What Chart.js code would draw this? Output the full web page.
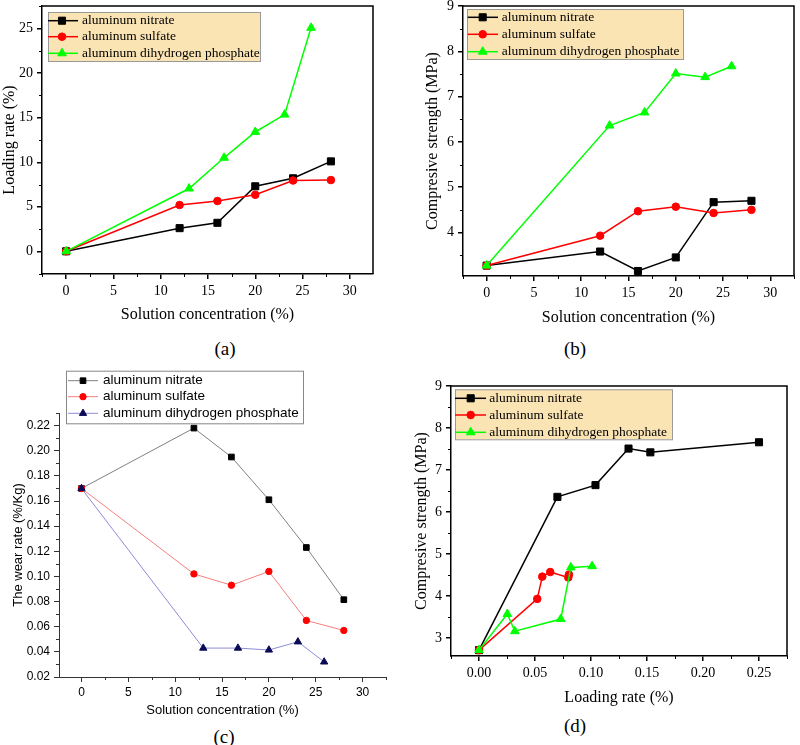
<!DOCTYPE html>
<html><head><meta charset="utf-8">
<script src="https://cdn.jsdelivr.net/npm/chart.js@4.4.0/dist/chart.umd.min.js"></script>
<style>
html,body{margin:0;padding:0;background:#fff;}
#wrap{position:relative;width:800px;height:745px;overflow:hidden;background:#fff;}
canvas{position:absolute;}
.cap{position:absolute;font-family:"Liberation Serif",serif;font-size:19px;color:#000;transform:translate(-50%,-50%);white-space:nowrap;}
</style></head><body>
<div id="wrap">
<canvas id="ca" width="400" height="335" style="left:0px;top:0px"></canvas>
<canvas id="cb" width="400" height="335" style="left:400px;top:0px"></canvas>
<canvas id="cc" width="400" height="360" style="left:0px;top:360px"></canvas>
<canvas id="cd" width="400" height="345" style="left:400px;top:370px"></canvas>
<div class="cap" style="left:225px;top:349px">(a)</div>
<div class="cap" style="left:575px;top:349px">(b)</div>
<div class="cap" style="left:224px;top:737px">(c)</div>
<div class="cap" style="left:575px;top:726px">(d)</div>
</div>
<script>
// ---------- data ----------
const seriesNames = ['aluminum nitrate', 'aluminum sulfate', 'aluminum dihydrogen phosphate'];
const concNitrateSulfate = [0, 12, 16, 20, 24, 28];
const concPhosphate = [0, 13, 16.7, 20, 23.1, 25.9];
// (a) loading rate
const loadNitrate = [0, 2.6, 3.2, 7.3, 8.2, 10.1];
const loadSulfate = [0, 5.2, 5.65, 6.35, 7.95, 8.0];
const loadPhosphate = [0, 7.05, 10.5, 13.4, 15.35, 25.1];
// (b) compressive strength
const strNitrate = [3.27, 3.58, 3.15, 3.45, 4.67, 4.70];
const strSulfate = [3.27, 3.93, 4.47, 4.57, 4.43, 4.50];
const strPhosphate = [3.27, 6.36, 6.65, 7.51, 7.43, 7.67];
// (c) wear rate
const wearNitrate = [0.170, 0.218, 0.195, 0.161, 0.123, 0.0815];
const wearSulfate = [0.170, 0.102, 0.093, 0.104, 0.065, 0.057];
const wearPhosphate = [0.170, 0.043, 0.043, 0.0415, 0.048, 0.032];
// (d) strength vs loading rate
const dNitrateX = [0, 0.070, 0.104, 0.1335, 0.153, 0.250];
const dNitrateY = [2.71, 6.36, 6.64, 7.51, 7.42, 7.66];
const dSulfateX = [0, 0.052, 0.0565, 0.0636, 0.0797, 0.0803];
const dSulfateY = [2.71, 3.93, 4.46, 4.57, 4.44, 4.51];
const dPhosphateX = [0, 0.0253, 0.032, 0.073, 0.082, 0.101];
const dPhosphateY = [2.71, 3.57, 3.16, 3.45, 4.68, 4.71];
// ticks
const ticksConc = [0, 5, 10, 15, 20, 25, 30];
const ticksConcLabels = ['0', '5', '10', '15', '20', '25', '30'];
const ticksLoadA = [0, 5, 10, 15, 20, 25];
const ticksLoadALabels = ['0', '5', '10', '15', '20', '25'];
const ticksStrB = [4, 5, 6, 7, 8, 9];
const ticksStrBLabels = ['4', '5', '6', '7', '8', '9'];
const ticksWear = [0.02, 0.04, 0.06, 0.08, 0.10, 0.12, 0.14, 0.16, 0.18, 0.20, 0.22];
const ticksWearLabels = ['0.02', '0.04', '0.06', '0.08', '0.10', '0.12', '0.14', '0.16', '0.18', '0.20', '0.22'];
const ticksLoadD = [0, 0.05, 0.10, 0.15, 0.20, 0.25];
const ticksLoadDLabels = ['0.00', '0.05', '0.10', '0.15', '0.20', '0.25'];
const ticksStrD = [3, 4, 5, 6, 7, 8, 9];
const ticksStrDLabels = ['3', '4', '5', '6', '7', '8', '9'];

// ---------- helpers ----------
const SERIF = '"Liberation Serif", "Times New Roman", serif';
const SANS = '"Liberation Sans", Arial, sans-serif';
const xy = (xs, ys) => xs.map((x, i) => ({x: x, y: ys[i]}));

function drawMarker(ctx, style, x, y, r, color) {
  ctx.save();
  ctx.fillStyle = color; ctx.strokeStyle = color; ctx.lineWidth = 1;
  ctx.beginPath();
  if (style === 'rect') { const s = Math.SQRT1_2 * r; ctx.rect(x - s, y - s, 2 * s, 2 * s); }
  else if (style === 'circle') { ctx.arc(x, y, r, 0, Math.PI * 2); }
  else {
    ctx.moveTo(x, y - r);
    ctx.lineTo(x + 0.866 * r, y + 0.5 * r);
    ctx.lineTo(x - 0.866 * r, y + 0.5 * r);
    ctx.closePath();
  }
  ctx.fill(); ctx.stroke();
  ctx.restore();
}

const decor = {
  id: 'decor',
  afterDraw(chart, args, o) {
    const ctx = chart.ctx, ca = chart.chartArea;
    ctx.save();
    // frame
    if (o.frame) {
      ctx.strokeStyle = o.color; ctx.lineWidth = o.lw;
      ctx.beginPath();
      ctx.moveTo(ca.left, ca.top); ctx.lineTo(ca.right, ca.top); ctx.lineTo(ca.right, ca.bottom);
      ctx.stroke();
    }
    // minor ticks
    ctx.strokeStyle = o.color; ctx.lineWidth = o.mlw;
    const xs = chart.scales.x, ys = chart.scales.y;
    const drawMinor = (scale, step, horiz) => {
      const start = Math.ceil(scale.min / step - 1e-9);
      const end = Math.floor(scale.max / step + 1e-9);
      const majors = scale.ticks.map(t => t.value);
      for (let k = start; k <= end; k++) {
        const v = k * step;
        if (majors.some(m => Math.abs(m - v) < step * 1e-3)) continue;
        const p = Math.round(scale.getPixelForValue(v)) + 0.5;
        ctx.beginPath();
        if (horiz) { ctx.moveTo(p, ca.bottom); ctx.lineTo(p, ca.bottom + o.mlen); }
        else { ctx.moveTo(ca.left, p); ctx.lineTo(ca.left - o.mlen, p); }
        ctx.stroke();
      }
    };
    drawMinor(xs, o.minorX, true);
    drawMinor(ys, o.minorY, false);
    // legend
    const lg = o.legend;
    ctx.fillStyle = lg.bg; ctx.fillRect(lg.x, lg.y, lg.w, lg.h);
    ctx.strokeStyle = lg.border; ctx.lineWidth = 1;
    ctx.strokeRect(lg.x + 0.5, lg.y + 0.5, lg.w, lg.h);
    chart.data.datasets.forEach((ds, i) => {
      const y = lg.rows[i];
      ctx.strokeStyle = ds.borderColor; ctx.lineWidth = ds.borderWidth;
      ctx.beginPath(); ctx.moveTo(lg.x0, y); ctx.lineTo(lg.x1, y); ctx.stroke();
      drawMarker(ctx, ds.pointStyle, lg.mx, y, ds.pointRadius, ds.pointBackgroundColor);
      ctx.fillStyle = '#000'; ctx.font = lg.font; ctx.textBaseline = 'middle'; ctx.textAlign = 'left';
      ctx.fillText(ds.label, lg.tx, y);
    });
    ctx.restore();
  }
};

function axis(dir, o) {
  return {
    type: 'linear', min: o.min, max: o.max,
    afterBuildTicks: s => { s.ticks = o.ticks.map(v => ({value: v})); },
    afterFit: s => {
      if (dir === 'x') { s.height = o.size; s.paddingLeft = 0; s.paddingRight = 0; }
      else { s.width = o.size; s.paddingTop = 0; s.paddingBottom = 0; }
    },
    ticks: {
      callback: (v, i) => o.labels[i], autoSkip: false, maxRotation: 0, minRotation: 0,
      font: {family: o.family, size: o.tsize}, color: '#000', padding: o.tpad
    },
    grid: {display: true, drawOnChartArea: false, drawTicks: true, tickLength: 5, color: o.color, lineWidth: o.lw},
    border: {display: true, color: o.color, width: o.lw},
    title: {display: true, text: o.title, color: '#000', font: {family: o.family, size: o.fsize},
      padding: {top: o.ttop || 0, bottom: o.tbot || 0}}
  };
}

function ds(label, data, color, lineColor, style, r, lw, order) {
  return {label: label, data: data, showLine: true, borderColor: lineColor, borderWidth: lw,
    backgroundColor: color, pointBackgroundColor: color, pointBorderColor: color, pointBorderWidth: 1,
    pointStyle: style, pointRadius: r, pointHoverRadius: r, order: order, tension: 0};
}

function make(id, W, H, L, R, T, B, datasets, xo, yo, deco) {
  xo.size = H - B; yo.size = L;
  return new Chart(document.getElementById(id), {
    type: 'scatter',
    data: {datasets: datasets},
    options: {
      responsive: false, animation: false, devicePixelRatio: 1,
      layout: {padding: {left: 0, top: T, right: W - R, bottom: 0}},
      plugins: {legend: {display: false}, tooltip: {enabled: false}, decor: deco},
      scales: {x: axis('x', xo), y: axis('y', yo)}
    },
    plugins: [decor]
  });
}

const serifLegendFont = '13.5px ' + SERIF;
const tan = '#fbe4b4';

// (a)
make('ca', 400, 335, 42, 373, 6, 274, [
  ds(seriesNames[0], xy(concNitrateSulfate, loadNitrate), '#000000', '#000000', 'rect', 5, 1.5, 3),
  ds(seriesNames[1], xy(concNitrateSulfate, loadSulfate), '#ff0000', '#ff0000', 'circle', 3.8, 1.5, 2),
  ds(seriesNames[2], xy(concPhosphate, loadPhosphate), '#00ff00', '#00ff00', 'triangle', 5, 1.5, 1)
], {min: -2.55, max: 32.45, ticks: ticksConc, labels: ticksConcLabels, family: SERIF, tsize: 14, tpad: 4,
    color: '#000', lw: 1.5, title: 'Solution concentration (%)', fsize: 16, tbot: 10.4},
   {min: -2.55, max: 27.55, ticks: ticksLoadA, labels: ticksLoadALabels, family: SERIF, tsize: 14, tpad: 4,
    color: '#000', lw: 1.5, title: 'Loading rate (%)', fsize: 16, ttop: 0},
   {frame: true, color: '#000', lw: 1.5, mlw: 1, mlen: 3, minorX: 2.5, minorY: 2.5,
    legend: {x: 48, y: 12, w: 212, h: 49, rows: [20.7, 36.7, 53.3], x0: 48, x1: 78, mx: 62, tx: 82,
      bg: tan, border: '#999', font: serifLegendFont}});

// (b)
make('cb', 400, 335, 63, 399, 5, 276, [
  ds(seriesNames[0], xy(concNitrateSulfate, strNitrate), '#000000', '#000000', 'rect', 5, 1.5, 3),
  ds(seriesNames[1], xy(concNitrateSulfate, strSulfate), '#ff0000', '#ff0000', 'circle', 3.8, 1.5, 2),
  ds(seriesNames[2], xy(concPhosphate, strPhosphate), '#00ff00', '#00ff00', 'triangle', 5, 1.5, 1)
], {min: -2.5, max: 32.5, ticks: ticksConc, labels: ticksConcLabels, family: SERIF, tsize: 14, tpad: 4,
    color: '#000', lw: 1.5, title: 'Solution concentration (%)', fsize: 16, tbot: 7.4},
   {min: 3.04, max: 9, ticks: ticksStrB, labels: ticksStrBLabels, family: SERIF, tsize: 14, tpad: 4,
    color: '#000', lw: 1.5, title: 'Compresive strength (MPa)', fsize: 16, ttop: 23.4},
   {frame: true, color: '#000', lw: 1.5, mlw: 1, mlen: 3, minorX: 2.5, minorY: 0.5,
    legend: {x: 67, y: 9, w: 216, h: 50, rows: [17.3, 34.3, 51.7], x0: 67.7, x1: 98, mx: 82.7, tx: 101.7,
      bg: tan, border: '#999', font: serifLegendFont}});

// (c)
make('cc', 400, 360, 59, 386, 53, 317, [
  ds(seriesNames[0], xy(concNitrateSulfate, wearNitrate), '#000000', '#808080', 'rect', 4, 1, 3),
  ds(seriesNames[1], xy(concNitrateSulfate, wearSulfate), '#ff0000', '#f47f7f', 'circle', 3.2, 1, 2),
  ds(seriesNames[2], xy(concPhosphate, wearPhosphate), '#0a0a55', '#8c8cd6', 'triangle', 4.2, 1, 1)
], {min: -2.4, max: 32.5, ticks: ticksConc, labels: ticksConcLabels, family: SANS, tsize: 12, tpad: 3,
    color: '#333', lw: 1, title: 'Solution concentration (%)', fsize: 13, tbot: 1.5},
   {min: 0.02, max: 0.23, ticks: ticksWear, labels: ticksWearLabels, family: SANS, tsize: 12, tpad: 4,
    color: '#333', lw: 1, title: 'The wear rate (%/Kg)', fsize: 13, ttop: 10.2},
   {frame: false, color: '#333', lw: 1, mlw: 1, mlen: 3, minorX: 2.5, minorY: 0.01,
    legend: {x: 66, y: 10.7, w: 237, h: 52.6, rows: [20.7, 36.7, 53.3], x0: 68, x1: 98, mx: 83, tx: 103,
      bg: '#ffffff', border: '#888', font: '13.5px ' + SANS}});

// (d)
make('cd', 400, 345, 51, 387, 16, 286, [
  ds(seriesNames[0], xy(dNitrateX, dNitrateY), '#000000', '#000000', 'rect', 5, 1.5, 3),
  ds(seriesNames[1], xy(dSulfateX, dSulfateY), '#ff0000', '#ff0000', 'circle', 3.8, 1.5, 2),
  ds(seriesNames[2], xy(dPhosphateX, dPhosphateY), '#00ff00', '#00ff00', 'triangle', 5, 1.5, 1)
], {min: -0.025, max: 0.275, ticks: ticksLoadD, labels: ticksLoadDLabels, family: SERIF, tsize: 14, tpad: 4,
    color: '#000', lw: 1.5, title: 'Loading rate (%)', fsize: 16, tbot: 7.4},
   {min: 2.57, max: 9, ticks: ticksStrD, labels: ticksStrDLabels, family: SERIF, tsize: 14, tpad: 4,
    color: '#000', lw: 1.5, title: 'Compresive strength (MPa)', fsize: 16, ttop: 11.9},
   {frame: true, color: '#000', lw: 1.5, mlw: 1, mlen: 3, minorX: 0.025, minorY: 0.5,
    legend: {x: 55, y: 19.3, w: 217, h: 50, rows: [28.3, 45, 62.3], x0: 55, x1: 86, mx: 70.7, tx: 89.3,
      bg: tan, border: '#999', font: serifLegendFont}});
</script>
</body></html>
